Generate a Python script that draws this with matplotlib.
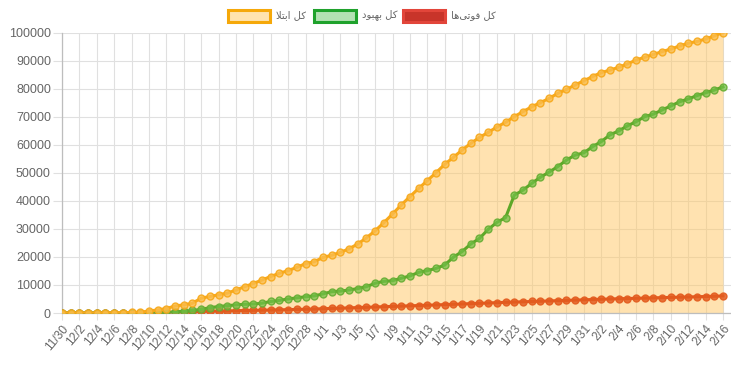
import matplotlib
matplotlib.use("Agg")
import matplotlib.pyplot as plt
from matplotlib.patches import Rectangle

# ---------------- data ----------------
dates = (["11/30"] + [f"12/{d}" for d in range(1, 29)] + ["12/30"]
         + [f"1/{d}" for d in range(1, 32)] + [f"2/{d}" for d in range(1, 17)])

infected = [0, 0, 0, 0, 0, 50, 100, 150, 200, 300,
            700, 1100, 1600, 2500, 2900, 3500, 5300, 5900, 6500, 7100,
            8200, 9400, 10500, 11800, 13000, 14200, 15100, 16300, 17600, 18300,
            19800, 20600, 21600, 22900, 24600, 26800, 29300, 32200, 35300, 38500,
            41500, 44400, 47200, 50000, 53000, 55500, 58100, 60500, 62600, 64400,
            66300, 68000, 70000, 71800, 73500, 75000, 76500, 78300, 79700, 81300,
            82800, 84300, 85700, 86600, 87600, 88800, 90200, 91200, 92200, 93200,
            94100, 95200, 96200, 96800, 97700, 98800, 100000]

recovered = [0, 0, 0, 0, 0, 0, 0, 0, 0, 0,
             0, 100, 200, 400, 600, 900, 1300, 1900, 2300, 2600,
             2900, 3100, 3200, 3500, 4100, 4500, 5000, 5400, 5800, 6100,
             6800, 7600, 7800, 8200, 8700, 9400, 10600, 11300, 11500, 12400,
             13200, 14500, 15100, 15900, 17100, 19900, 21900, 24600, 26600, 29800,
             32300, 34000, 42000, 43800, 46200, 48400, 50200, 52200, 54500, 56300,
             57100, 59300, 61100, 63500, 64900, 66700, 68200, 70000, 70900, 72400,
             73800, 75300, 76300, 77500, 78500, 79500, 80600]

deaths = [0, 0, 0, 0, 0, 0, 0, 0, 0, 0,
          0, 50, 150, 250, 350, 450, 550, 600, 680, 750,
          820, 880, 940, 1000, 1060, 1120, 1200, 1270, 1330, 1420,
          1520, 1630, 1720, 1830, 1930, 2030, 2150, 2250, 2350, 2450,
          2560, 2660, 2770, 2880, 2990, 3100, 3220, 3340, 3450, 3570,
          3690, 3800, 3900, 4000, 4100, 4200, 4300, 4400, 4500, 4600,
          4700, 4800, 4900, 5000, 5080, 5160, 5240, 5320, 5400, 5480,
          5560, 5640, 5720, 5800, 5880, 5960, 6100]

series_labels = ["کل ابتلا", "کل بهبود", "کل فوتی‌ها"]
y_ticks = [0, 10000, 20000, 30000, 40000, 50000, 60000, 70000, 80000, 90000, 100000]

# ------------- simple Arabic/Persian shaping for display -------------
FORMS = {  # isolated, final, initial, medial
    '\u0627': ('\uFE8D', '\uFE8E', None, None),
    '\u0628': ('\uFE8F', '\uFE90', '\uFE91', '\uFE92'),
    '\u062A': ('\uFE95', '\uFE96', '\uFE97', '\uFE98'),
    '\u062F': ('\uFEA9', '\uFEAA', None, None),
    '\u0641': ('\uFED1', '\uFED2', '\uFED3', '\uFED4'),
    '\u06A9': ('\uFB8E', '\uFB8F', '\uFB90', '\uFB91'),
    '\u0644': ('\uFEDD', '\uFEDE', '\uFEDF', '\uFEE0'),
    '\u0647': ('\uFEE9', '\uFEEA', '\uFEEB', '\uFEEC'),
    '\u0648': ('\uFEED', '\uFEEE', None, None),
    '\u06CC': ('\uFBFC', '\uFBFD', '\uFBFE', '\uFBFF'),
}


def dual(c):
    return c in FORMS and FORMS[c][2] is not None


def joins_right(c):
    return c in FORMS


def shape(s):
    out = []
    chars = list(s)
    i = 0
    while i < len(chars):
        c = chars[i]
        prev = chars[i - 1] if i > 0 else ''
        nxt = chars[i + 1] if i + 1 < len(chars) else ''
        if c not in FORMS:
            if c != '\u200C':
                out.append(c)
            i += 1
            continue
        jp = dual(prev) and joins_right(c)
        if c == '\u0644' and nxt == '\u0627':
            out.append('\uFEFC' if jp else '\uFEFB')
            i += 2
            continue
        jn = dual(c) and joins_right(nxt)
        f = FORMS[c]
        if jp and jn:
            out.append(f[3])
        elif jp:
            out.append(f[1])
        elif jn:
            out.append(f[2])
        else:
            out.append(f[0])
        i += 1
    return ''.join(reversed(out))


# ---------------- plot ----------------
W, H = 731, 365
fig = plt.figure(figsize=(W / 100, H / 100), dpi=100)
ax = fig.add_axes([62 / W, 1 - 313 / H, (731 - 62) / W, (313 - 32.5) / H])

x = list(range(len(dates)))
grid_c = '#e0e0e0'
text_c = '#666666'
font = ['Liberation Sans', 'DejaVu Sans']

ax.fill_between(x, infected, 0, color=(1.0, 0.78, 0.39, 0.5), linewidth=0, zorder=1)

ax.plot(x, deaths, color='#E2561C', lw=2.2, marker='o', ms=5.0,
        mfc=(0.89, 0.36, 0.12, 0.85), mec=(0.89, 0.36, 0.12, 0.9), mew=1, zorder=3)
ax.plot(x, recovered, color='#5EA828', lw=2.2, marker='o', ms=5.0,
        mfc=(0.45, 0.75, 0.28, 0.75), mec=(0.40, 0.68, 0.20, 0.9), mew=1, zorder=4)
ax.plot(x, infected, color='#F7A91C', lw=2.2, marker='o', ms=5.0,
        mfc=(0.98, 0.74, 0.30, 0.8), mec=(0.97, 0.66, 0.10, 0.9), mew=1, zorder=5)

ax.set_xlim(0, 76 + 8 / 8.7)
ax.set_ylim(0, 100000)
ax.set_yticks(y_ticks)
ax.set_yticklabels([str(v) for v in y_ticks], fontsize=9, color=text_c, family=font)
ax.set_xticks(x[::2])
ax.set_xticklabels(dates[::2], rotation=50, ha='right', rotation_mode='anchor',
                   fontsize=8.6, color=text_c, family=font)
ax.tick_params(axis='y', length=6.5, width=0.8, color=grid_c, pad=1.5)
ax.tick_params(axis='x', length=5, width=0.8, color=grid_c, pad=2)
ax.grid(True, color=grid_c, lw=0.8)
ax.set_axisbelow(True)
for s in ['top', 'right']:
    ax.spines[s].set_visible(False)
ax.spines['left'].set_color('#bdbdbd')
ax.spines['bottom'].set_color('#bdbdbd')
ax.spines['left'].set_linewidth(0.9)
ax.spines['bottom'].set_linewidth(0.9)

# legend (manual, figure pixel coords)
legend_items = [
    (228, '#FFE3AE', '#F5A80A', series_labels[0]),
    (314, '#B3E2B3', '#1FA22C', series_labels[1]),
    (403, '#C8342A', '#E2453A', series_labels[2]),
]
for x0, fc, ec, lab in legend_items:
    r = Rectangle((x0 / W, 1 - 22 / H), 42 / W, 12 / H, transform=fig.transFigure,
                  facecolor=fc, edgecolor=ec, linewidth=2.2)
    fig.add_artist(r)
    fig.text((x0 + 48) / W, 1 - 15 / H, shape(lab), fontsize=7.2, color=text_c,
             ha='left', va='center', family=['DejaVu Sans'])

fig.savefig('out.png', dpi=100)
